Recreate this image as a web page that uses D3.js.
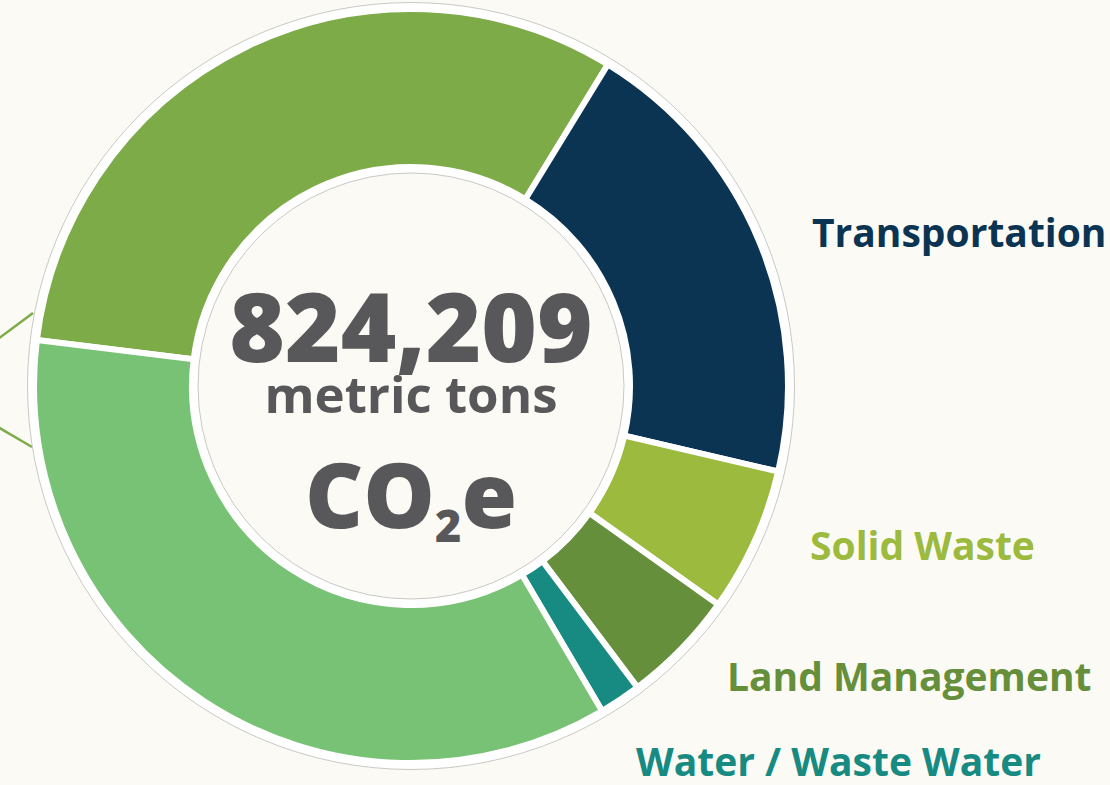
<!DOCTYPE html>
<html>
<head>
<meta charset="utf-8">
<script src="https://cdn.jsdelivr.net/npm/d3@7"></script>
<style>
  html, body { margin: 0; padding: 0; background: #fbfaf5; }
  svg { display: block; font-family: "Open Sans", "Noto Sans", sans-serif; }
</style>
</head>
<body>
<svg id="chart"></svg>
<script>
// Données : émissions par secteur (tonnes métriques CO2e)
const sectors = ["Commercial Energy", "Transportation", "Solid Waste", "Land Management", "Water / Waste Water", "Residential Energy"];
const tons = [262100, 164000, 51100, 40400, 14800, 291800];
const colors = ["#7dab48", "#0a3452", "#9bba3e", "#668f3b", "#178a82", "#78c275"];
const totalLabel = "824,209";

const width = 1110, height = 785;
const cx = 411, cy = 386;
const rOuter = 377, rInner = 219;

const svg = d3.select("#chart").attr("width", width).attr("height", height);
svg.append("rect").attr("width", width).attr("height", height).attr("fill", "#fbfaf5");

// Accolade à gauche (étiquette hors cadre)
const brace = svg.append("g").attr("stroke", "#7dab48").attr("stroke-width", 2.5).attr("fill", "none");
brace.append("line").attr("x1", -2).attr("y1", 339).attr("x2", 33).attr("y2", 313);
brace.append("line").attr("x1", -2).attr("y1", 427).attr("x2", 32).attr("y2", 447);

const g = svg.append("g").attr("transform", `translate(${cx},${cy})`);

// Anneau blanc extérieur
g.append("circle").attr("r", rOuter + 6.5)
    .attr("fill", "#fff").attr("stroke", "#c9c9c4").attr("stroke-width", 1);

const pie = d3.pie().sort(null).value(d => d)
    .startAngle(-83 * Math.PI / 180).endAngle((360 - 83) * Math.PI / 180);
const arc = d3.arc().innerRadius(rInner).outerRadius(rOuter);

g.selectAll("path.slice").data(pie(tons)).enter()
    .append("path")
    .attr("class", "slice")
    .attr("d", arc)
    .attr("fill", (d, i) => colors[i])
    .attr("stroke", "#fff")
    .attr("stroke-width", 6)
    .attr("stroke-linejoin", "miter");

// Disque central
g.append("circle").attr("r", rInner - 6)
    .attr("fill", "#fbfaf5").attr("stroke", "#c9c9c4").attr("stroke-width", 1);

// Texte central
const grey = "#58585a";
g.append("text").attr("text-anchor", "middle").attr("y", 362 - cy)
    .attr("fill", grey).attr("font-size", 95).attr("font-weight", 800)
    .text(totalLabel);
g.append("text").attr("text-anchor", "middle").attr("y", 413 - cy)
    .attr("fill", grey).attr("font-size", 51).attr("font-weight", 700)
    .text("metric tons");
const co2 = g.append("text").attr("text-anchor", "middle").attr("y", 528 - cy)
    .attr("fill", grey).attr("font-size", 90).attr("font-weight", 800);
co2.append("tspan").text("CO");
co2.append("tspan").attr("font-size", 45).attr("dy", 14).text("2");
co2.append("tspan").attr("dy", -14).text("e");

// Étiquettes des secteurs à droite
const labelPos = {
    "Transportation": [812, 247],
    "Solid Waste": [810, 560],
    "Land Management": [727, 691],
    "Water / Waste Water": [636, 776]
};
sectors.forEach((s, i) => {
    if (!labelPos[s]) return;
    svg.append("text")
        .attr("x", labelPos[s][0]).attr("y", labelPos[s][1])
        .attr("fill", colors[i]).attr("font-size", 39).attr("font-weight", 700)
        .text(s);
});
</script>
</body>
</html>
